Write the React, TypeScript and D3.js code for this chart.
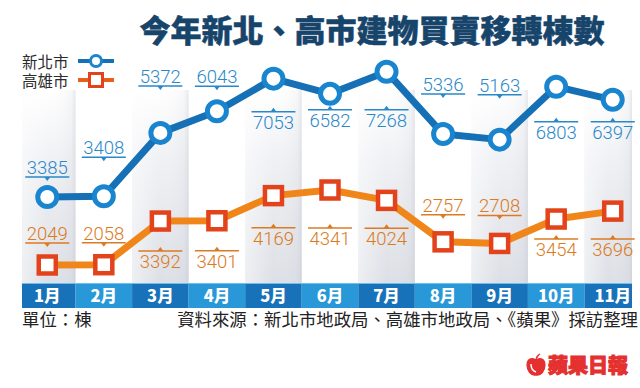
import * as d3 from "d3";

const months = ["1月", "2月", "3月", "4月", "5月", "6月", "7月", "8月", "9月", "10月", "11月"];
const newTaipei = [3385, 3408, 5372, 6043, 7053, 6582, 7268, 5336, 5163, 6803, 6397];
const kaohsiung = [2049, 2058, 3392, 3401, 4169, 4341, 4024, 2757, 2708, 3454, 3696];

// label offsets from the point (negative = label above the point)
const newTaipeiLabelDy = [-20, -39, -47, -25, 33, 16, 38, -40, -45, 35, 22];
const kaohsiungLabelDy = [-22, -22, 30, 30, 32, 38, 28, -27, -28, 20, 28];

const W = 640;
const H = 388;
const BAR_TOP = 283;
const BAR_BOTTOM = 308;
const LEFT = 22;
const RIGHT = 632;

const BLUE_TEXT = "#2a88c9";
const ORANGE_TEXT = "#dc7a22";
const LABEL_FONT = "Roboto, 'Liberation Sans', sans-serif";
const CJK = "'Noto Sans CJK TC', 'Noto Sans CJK SC', sans-serif";

type LabelProps = { x: number; y: number; dy: number; value: number; color: string };

const ValueLabel = ({ x, y, dy, value, color }: LabelProps) => {
  const lineY = y + dy;
  const above = dy < 0;
  const half = 22;
  const tri = above
    ? `M${x - 3},${lineY} L${x + 3},${lineY} L${x},${lineY + 4} Z`
    : `M${x - 3},${lineY} L${x + 3},${lineY} L${x},${lineY - 4} Z`;
  return (
    <g>
      <line x1={x - half} x2={x + half} y1={lineY} y2={lineY} stroke={color} strokeWidth={1.5} />
      <path d={tri} fill={color} />
      <text
        x={x}
        y={above ? lineY - 3 : lineY + 17}
        textAnchor="middle"
        fontFamily={LABEL_FONT}
        fontWeight={300}
        fontSize={18.5}
        fill={color}
      >
        {value}
      </text>
    </g>
  );
};

const App = () => {
  const xScale = d3.scaleBand<string>().domain(months).range([19, 641]).paddingInner(0);
  const cx = (m: string) => (xScale(m) ?? 0) + xScale.bandwidth() / 2;

  const yBlue = d3.scaleLinear().domain([3385, 7268]).range([197, 71.7]);
  const yOrange = d3.scaleLinear().domain([2049, 4341]).range([265, 190]);

  const blueLine = d3
    .line<number>()
    .x((_, i) => cx(months[i]))
    .y((d) => yBlue(d));
  const orangeLine = d3
    .line<number>()
    .x((_, i) => cx(months[i]))
    .y((d) => yOrange(d));

  const colBounds = (m: string) => {
    const x0 = Math.max(LEFT, xScale(m) ?? 0);
    const x1 = Math.min(RIGHT, (xScale(m) ?? 0) + xScale.bandwidth());
    return [x0, x1];
  };

  return (
    <svg
      width={W}
      height={H}
      viewBox={`0 0 ${W} ${H}`}
      style={{ position: "absolute", left: 0, top: 0, background: "#fff" }}
    >
      <defs>
        <linearGradient id="colGray" x1="0" y1="90" x2="0" y2={BAR_TOP} gradientUnits="userSpaceOnUse">
          <stop offset="0" stopColor="#ffffff" />
          <stop offset="0.35" stopColor="#f0f1f4" />
          <stop offset="1" stopColor="#dcdfe5" />
        </linearGradient>
        <linearGradient id="colEdge" x1="0" y1="0" x2="1" y2="0">
          <stop offset="0" stopColor="#ffffff" stopOpacity={0.5} />
          <stop offset="0.5" stopColor="#ffffff" stopOpacity={0} />
          <stop offset="0.92" stopColor="#c8ccd4" stopOpacity={0.15} />
          <stop offset="1" stopColor="#b8bdc7" stopOpacity={0.35} />
        </linearGradient>
      </defs>

      {/* shaded columns */}
      {months.map((m, i) => {
        if (i % 2 !== 0) return null;
        const [x0, x1] = colBounds(m);
        return (
          <g key={m}>
            <rect x={x0} y={90} width={x1 - x0} height={BAR_TOP - 90} fill="url(#colGray)" />
            <rect x={x0} y={90} width={x1 - x0} height={BAR_TOP - 90} fill="url(#colEdge)" />
          </g>
        );
      })}

      {/* title */}
      <text
        x={372}
        y={42}
        textAnchor="middle"
        fontFamily={CJK}
        fontWeight={900}
        fontSize={31}
        fill="#17446b"
        stroke="#17446b"
        strokeWidth={0.5}
      >
        今年新北、高市建物買賣移轉棟數
      </text>

      {/* legend */}
      <text x={22} y={68} fontFamily={CJK} fontSize={15.5} fill="#2b2b2b">
        新北市
      </text>
      <line x1={78} x2={114} y1={61} y2={61} stroke="#1570b5" strokeWidth={4} />
      <circle cx={96} cy={61} r={5.5} fill="#fff" stroke="#1a85cf" strokeWidth={3} />
      <text x={22} y={87} fontFamily={CJK} fontSize={15.5} fill="#2b2b2b">
        高雄市
      </text>
      <line x1={78} x2={114} y1={80} y2={80} stroke="#e8601a" strokeWidth={4} />
      <rect x={89.5} y={73.5} width={13} height={13} fill="#fff" stroke="#e2431b" strokeWidth={3} />

      {/* month bar */}
      {months.map((m, i) => {
        const [x0, x1] = colBounds(m);
        return (
          <g key={m}>
            <rect
              x={x0}
              y={BAR_TOP}
              width={x1 - x0}
              height={BAR_BOTTOM - BAR_TOP}
              fill={i % 2 === 0 ? "#1872b9" : "#2898d9"}
            />
            <text
              x={cx(m)}
              y={BAR_TOP + 19}
              textAnchor="middle"
              fontFamily={CJK}
              fontWeight={900}
              fontSize={16.5}
              fill="#ffffff"
            >
              {m}
            </text>
          </g>
        );
      })}
      <line x1={LEFT} x2={RIGHT} y1={BAR_TOP + 0.5} y2={BAR_TOP + 0.5} stroke="#6cc0ee" strokeWidth={1} />

      {/* Kaohsiung series */}
      <path d={orangeLine(kaohsiung) ?? ""} fill="none" stroke="#f0861a" strokeWidth={7} strokeLinejoin="round" />
      {kaohsiung.map((v, i) => (
        <rect
          key={i}
          x={cx(months[i]) - 8.5}
          y={yOrange(v) - 8.5}
          width={17}
          height={17}
          fill="#fff"
          stroke="#e2431b"
          strokeWidth={4.5}
        />
      ))}

      {/* New Taipei series */}
      <path d={blueLine(newTaipei) ?? ""} fill="none" stroke="#1570b5" strokeWidth={7} strokeLinejoin="round" />
      {newTaipei.map((v, i) => (
        <circle key={i} cx={cx(months[i])} cy={yBlue(v)} r={9.5} fill="#fff" stroke="#1a85cf" strokeWidth={5} />
      ))}

      {/* value labels */}
      {newTaipei.map((v, i) => (
        <ValueLabel key={i} x={cx(months[i])} y={yBlue(v)} dy={newTaipeiLabelDy[i]} value={v} color={BLUE_TEXT} />
      ))}
      {kaohsiung.map((v, i) => (
        <ValueLabel
          key={i}
          x={cx(months[i])}
          y={yOrange(v)}
          dy={kaohsiungLabelDy[i]}
          value={v}
          color={ORANGE_TEXT}
        />
      ))}

      {/* footer */}
      <text x={22} y={326} fontFamily={CJK} fontSize={17.4} fill="#222">
        單位：棟
      </text>
      <text x={638} y={326} textAnchor="end" fontFamily={CJK} fontSize={17.4} fill="#222">
        資料來源：新北市地政局、高雄市地政局、《蘋果》採訪整理
      </text>

      {/* logo */}
      <g transform="translate(527,356)">
        <path
          d="M9,4 C5,1 0,3 0,9 C0,15 4,20 9,19 C14,20 18,15 18,9 C18,3 13,1 9,4 Z M9,4 C9,1 11,-1 13,-2"
          fill="#e53030"
          stroke="#e53030"
          strokeWidth={1.2}
        />
        <path d="M4,8 C4,12 6,15 9,16" fill="none" stroke="#fff" strokeWidth={1.5} />
      </g>
      <text
        x={548}
        y={373}
        fontFamily={CJK}
        fontWeight={900}
        fontSize={20}
        fill="#e53030"
        stroke="#e53030"
        strokeWidth={1}
      >
        蘋果日報
      </text>
    </svg>
  );
};

export default App;
